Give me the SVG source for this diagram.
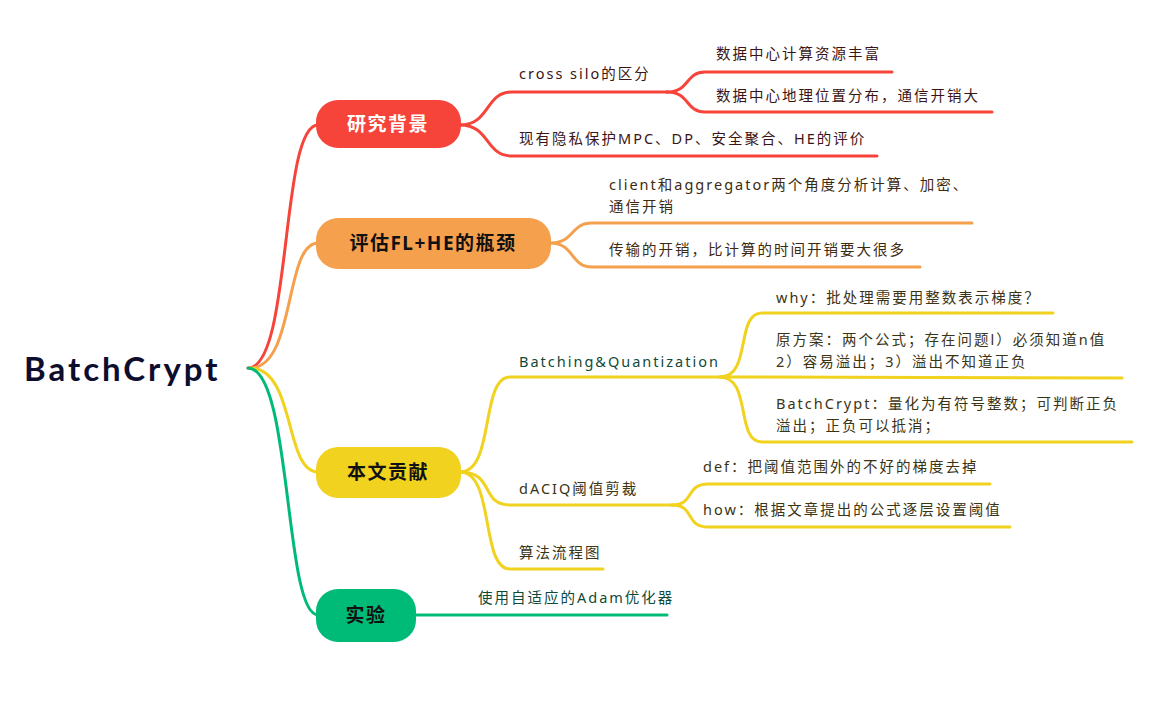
<svg xmlns="http://www.w3.org/2000/svg" width="1165" height="703" viewBox="0 0 1165 703">
<style>
.t{font-family:"Noto Sans","Noto Sans CJK SC",sans-serif;font-size:14.5px;letter-spacing:2px}
.nt{font-family:"Noto Sans","Noto Sans CJK SC",sans-serif;font-size:19px;font-weight:bold;letter-spacing:1.5px}
.c{fill:none;stroke-width:3;stroke-linecap:round}
.r{stroke:#f6443b}.o{stroke:#f5a04c}.y{stroke:#f0d21f}.g{stroke:#00bb78}
.tr{fill:#3b1515}.to{fill:#3d2a12}.ty{fill:#3b3414}.tg{fill:#0f4a38}
</style>
<rect width="1165" height="703" fill="#fff"/>
<g id="connectors">
<path class="c r" d="M248,368 C292,368 280,125 318,125"/>
<path class="c o" d="M250,368 C296,368 284,243 318,243"/>
<path class="c y" d="M250,368 C296,368 284,472 318,472"/>
<path class="c g" d="M248,368 C292,368 284,615 318,615"/>
<path class="c r" d="M460,125 C490,125 485,92 512,92 L667,92"/>
<path class="c r" d="M460,125 C490,125 485,156 512,156 L877,156"/>
<path class="c r" d="M667,92 C690,92 685,72 705,72 L892,72"/>
<path class="c r" d="M667,92 C690,92 685,112 705,112 L992,112"/>
<path class="c o" d="M550,243 C575,243 570,223 592,223 L972,223"/>
<path class="c o" d="M550,243 C575,243 570,267 592,267 L920,267"/>
<path class="c y" d="M460,472 C495,472 480,377 510,377 L720,377"/>
<path class="c y" d="M460,472 C495,472 480,505 510,505 L672,505"/>
<path class="c y" d="M460,472 C495,472 480,569 510,569 L603,569"/>
<path class="c y" d="M720,377 C752,377 735,313 762,313 L1053,313"/>
<path class="c y" d="M720,377 L1122,378"/>
<path class="c y" d="M720,377 C752,377 735,442 762,442 L1132,442"/>
<path class="c y" d="M672,505 C695,505 685,484 708,484 L990,484"/>
<path class="c y" d="M672,505 C695,505 685,527 708,527 L1010,527"/>
<path class="c g" d="M416,615 L667,615"/>
</g>
<g id="root"><text x="24" y="381" font-family="Lato,'Noto Sans',sans-serif" font-size="33" font-weight="bold" fill="#0d0d2e" letter-spacing="3">BatchCrypt</text></g>
<g id="n1"><rect x="316" y="100" width="145" height="48" rx="22" fill="#f6443b"/><text class="nt" x="388" y="131" text-anchor="middle" fill="#fff">研究背景</text></g>
<g id="n2"><rect x="316" y="218" width="235" height="51" rx="22" fill="#f5a04c"/><text class="nt" x="433" y="250" text-anchor="middle" fill="#111">评估FL+HE的瓶颈</text></g>
<g id="n3"><rect x="316" y="447" width="145" height="51" rx="22" fill="#f0d21f"/><text class="nt" x="388" y="479" text-anchor="middle" fill="#111">本文贡献</text></g>
<g id="n4"><rect x="316" y="589" width="100" height="53" rx="22" fill="#00bb78"/><text class="nt" x="366" y="622" text-anchor="middle" fill="#111">实验</text></g>
<g id="a1"><text class="t tr" x="519" y="79">cross silo的区分</text></g>
<g id="a2"><text class="t tr" x="716" y="59">数据中心计算资源丰富</text></g>
<g id="a3"><text class="t tr" x="716" y="101">数据中心地理位置分布，通信开销大</text></g>
<g id="a4"><text class="t tr" x="519" y="144">现有隐私保护MPC、DP、安全聚合、HE的评价</text></g>
<g id="b1"><text class="t to" x="609" y="190">client和aggregator两个角度分析计算、加密、</text><text class="t to" x="609" y="212">通信开销</text></g>
<g id="b2"><text class="t to" x="609" y="255">传输的开销，比计算的时间开销要大很多</text></g>
<g id="c1"><text class="t tg" x="519" y="367">Batching&amp;Quantization</text></g>
<g id="c2"><text class="t ty" x="776" y="303">why：批处理需要用整数表示梯度？</text></g>
<g id="c3"><text class="t ty" x="776" y="345">原方案：两个公式；存在问题l）必须知道n值</text><text class="t ty" x="776" y="367">2）容易溢出；3）溢出不知道正负</text></g>
<g id="c4"><text class="t ty" x="776" y="409">BatchCrypt：量化为有符号整数；可判断正负</text><text class="t ty" x="776" y="431">溢出；正负可以抵消；</text></g>
<g id="c5"><text class="t ty" x="519" y="494">dACIQ阈值剪裁</text></g>
<g id="c6"><text class="t ty" x="703" y="472">def：把阈值范围外的不好的梯度去掉</text></g>
<g id="c7"><text class="t ty" x="703" y="515">how：根据文章提出的公式逐层设置阈值</text></g>
<g id="c8"><text class="t ty" x="519" y="558">算法流程图</text></g>
<g id="d1"><text class="t tg" x="478" y="603">使用自适应的Adam优化器</text></g>
</svg>
